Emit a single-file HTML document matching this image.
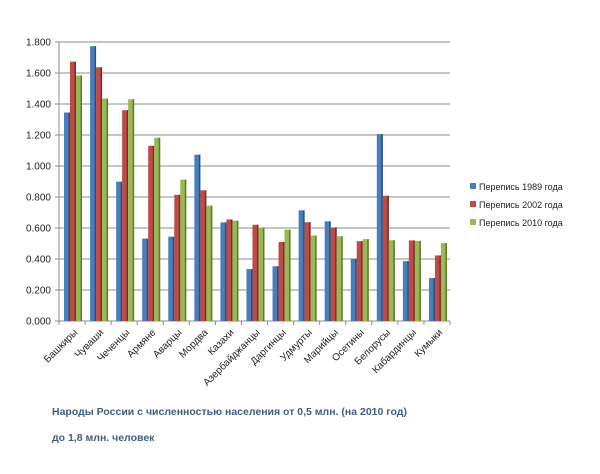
<!DOCTYPE html>
<html><head><meta charset="utf-8"><style>
body{margin:0;background:#fff;width:600px;height:474px;overflow:hidden}
svg{display:block;font-family:"Liberation Sans","DejaVu Sans",sans-serif}
</style></head><body>
<svg id="c" width="600" height="474" xmlns="http://www.w3.org/2000/svg"></svg>
<script>
const s=document.getElementById('c');
const d=[["Башкиры",1.345,1.673,1.584],["Чуваши",1.773,1.637,1.435],["Чеченцы",0.899,1.360,1.431],["Армяне",0.532,1.130,1.182],["Аварцы",0.544,0.814,0.912],["Мордва",1.073,0.843,0.744],["Казахи",0.636,0.655,0.647],["Азербайджанцы",0.335,0.621,0.603],["Даргинцы",0.353,0.510,0.589],["Удмурты",0.714,0.637,0.552],["Марийцы",0.643,0.604,0.547],["Осетины",0.402,0.515,0.528],["Белорусы",1.206,0.808,0.521],["Кабардинцы",0.386,0.520,0.517],["Кумыки",0.277,0.423,0.503]];
const x0=59,x1=450,y0=321,sc=279/1.8,gw=(x1-x0)/15;
let h='';
for(let i=0;i<=9;i++){const y=y0-i*0.2*sc;
h+=`<line x1="${x0}" y1="${y}" x2="${x1}" y2="${y}" stroke="#8c8c8c" stroke-width="1"/>`;
h+=`<line x1="${x0-4}" y1="${y}" x2="${x0}" y2="${y}" stroke="#8c8c8c"/>`;
h+=`<text x="${x0-8}" y="${y+3.5}" font-size="10" text-anchor="end" fill="#222">${(i*0.2).toFixed(3)}</text>`;}
h+=`<line x1="${x0}" y1="${y0-279}" x2="${x0}" y2="${y0}" stroke="#8c8c8c"/>`;
h+=`<line x1="${x0}" y1="${y0}" x2="${x1}" y2="${y0}" stroke="#8c8c8c"/>`;
const cols=[["#4a7ebb","#2c4f7c"],["#be4b48","#7a2c2a"],["#98b954","#5f7a2c"]];
d.forEach((r,i)=>{const gx=x0+i*gw;
h+=`<line x1="${gx}" y1="${y0}" x2="${gx}" y2="${y0+4}" stroke="#8c8c8c"/>`;
for(let k=0;k<3;k++){const bx=gx+5+k*6,bh=r[k+1]*sc,by=y0-bh;
h+=`<rect x="${bx}" y="${by}" width="6" height="${bh}" fill="${cols[k][0]}"/>`;
h+=`<rect x="${bx+4.5}" y="${by}" width="1.5" height="${bh}" fill="${cols[k][1]}"/>`;}
const lx=gx+gw/2+6,ly=y0+12;
h+=`<text x="${lx}" y="${ly}" font-size="10" text-anchor="end" fill="#222" transform="rotate(-45 ${lx} ${ly})">${r[0]}</text>`;});
h+=`<line x1="${x1}" y1="${y0}" x2="${x1}" y2="${y0+4}" stroke="#8c8c8c"/>`;
["Перепись 1989 года","Перепись 2002 года","Перепись 2010 года"].forEach((t,k)=>{const y=187+k*18;
h+=`<rect x="470" y="${y-4}" width="6" height="6" fill="${cols[k][0]}"/>`;
h+=`<text x="479" y="${y+3}" font-size="9" fill="#222">${t}</text>`;});
h+=`<text x="52" y="415" font-size="10.5" font-weight="bold" fill="#3f5f80">Народы России с численностью населения от 0,5 млн. (на 2010 год)</text>`;
h+=`<text x="52" y="441" font-size="10.5" font-weight="bold" fill="#3f5f80">до 1,8 млн. человек</text>`;
s.innerHTML=h;
</script>
</body></html>
